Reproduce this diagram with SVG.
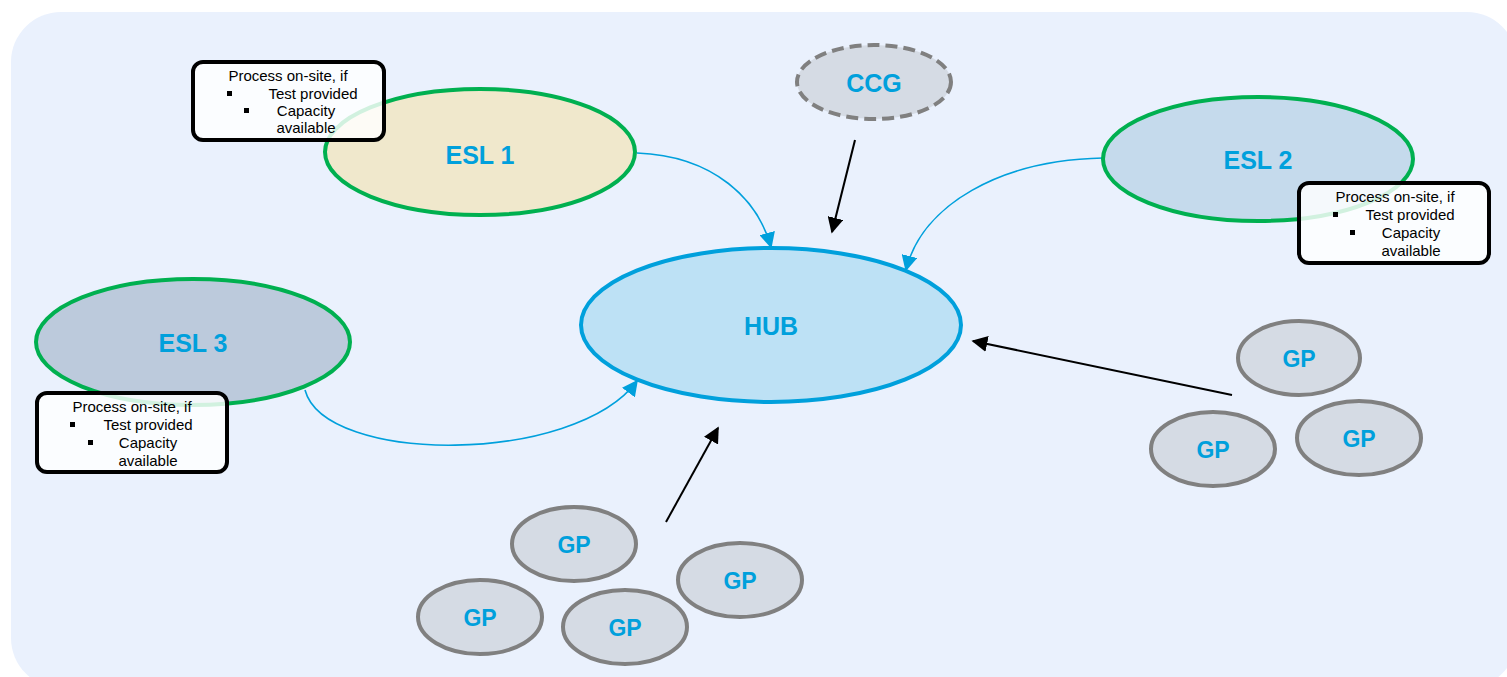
<svg xmlns="http://www.w3.org/2000/svg" width="1507" height="677" viewBox="0 0 1507 677">
<style>
.lbl{font-family:"Liberation Sans",Arial,sans-serif;font-weight:bold;fill:#00A0DC;text-anchor:middle;dominant-baseline:central}
.esl{stroke:#00B050;stroke-width:4}
.gp{fill:#D5DBE4;stroke:#808080;stroke-width:4}
.box{fill:#FFFFFF;fill-opacity:0.82;stroke:#000;stroke-width:4}
.bt{font-family:"Liberation Sans",Arial,sans-serif;font-size:15px;fill:#000;text-anchor:middle}
.blue{fill:none;stroke:#00A0DC;stroke-width:1.6}
.black{fill:none;stroke:#000;stroke-width:2}
</style>
<defs>
<marker id="ak" viewBox="0 0 10 10" refX="9" refY="5" markerWidth="16" markerHeight="16" markerUnits="userSpaceOnUse" orient="auto"><path d="M0,0 L10,5 L0,10 z" fill="#000"/></marker>
<marker id="ab2" viewBox="0 0 10 10" refX="9" refY="5" markerWidth="16" markerHeight="16" markerUnits="userSpaceOnUse" orient="auto"><path d="M0,0 L10,5 L0,10 z" fill="#00A0DC"/></marker>
</defs>
<rect x="11" y="12" width="1506" height="676" rx="50" fill="#EAF1FD"/>

<g id="connectors">
<path class="blue" d="M637,153 C715,156 758,200 771,247" marker-end="url(#ab2)"/>
<path class="blue" d="M1103,158 C1000,160 922,205 906,270" marker-end="url(#ab2)"/>
<path class="blue" d="M305,390 C325,465 575,465 637,381" marker-end="url(#ab2)"/>
<path class="black" d="M855,140 L832,232" marker-end="url(#ak)"/>
<path class="black" d="M1232,395 L973,341" marker-end="url(#ak)"/>
<path class="black" d="M666,522 L718,428" marker-end="url(#ak)"/>
</g>

<g id="hub">
<ellipse cx="771" cy="325" rx="190" ry="77" fill="#BDE1F5" stroke="#00A0DC" stroke-width="4"/>
<text class="lbl" x="771" y="326" font-size="25">HUB</text>
</g>

<g id="ccg">
<ellipse cx="874" cy="82" rx="77" ry="37" fill="#D5DBE4" stroke="#808080" stroke-width="4" stroke-dasharray="12 6"/>
<text class="lbl" x="874" y="83" font-size="25">CCG</text>
</g>

<g id="esl1">
<ellipse class="esl" cx="480" cy="152" rx="155" ry="63" fill="#F0E8CC"/>
<text class="lbl" x="480" y="155" font-size="25">ESL 1</text>
</g>

<g id="esl2">
<ellipse class="esl" cx="1258" cy="159" rx="155" ry="62" fill="#C5DAEC"/>
<text class="lbl" x="1258" y="160" font-size="25">ESL 2</text>
</g>

<g id="esl3">
<ellipse class="esl" cx="193" cy="342" rx="157" ry="63" fill="#BCCADC"/>
<text class="lbl" x="193" y="343" font-size="25">ESL 3</text>
</g>

<g id="box1">
<rect class="box" x="193" y="62" width="191" height="78" rx="10"/>
<text class="bt" x="288" y="81">Process on-site, if</text>
<rect x="227" y="91" width="5" height="5" fill="#000"/>
<text class="bt" x="313" y="99">Test provided</text>
<rect x="244" y="108" width="5" height="5" fill="#000"/>
<text class="bt" x="306" y="116">Capacity</text>
<text class="bt" x="306" y="133">available</text>
</g>

<g id="box2">
<rect class="box" x="1299" y="183" width="190" height="80" rx="10"/>
<text class="bt" x="1395" y="202">Process on-site, if</text>
<rect x="1333" y="212" width="5" height="5" fill="#000"/>
<text class="bt" x="1410" y="220">Test provided</text>
<rect x="1350" y="230" width="5" height="5" fill="#000"/>
<text class="bt" x="1411" y="238">Capacity</text>
<text class="bt" x="1411" y="256">available</text>
</g>

<g id="box3">
<rect class="box" x="37" y="393" width="190" height="79" rx="10"/>
<text class="bt" x="132" y="412">Process on-site, if</text>
<rect x="70" y="422" width="5" height="5" fill="#000"/>
<text class="bt" x="148" y="430">Test provided</text>
<rect x="88" y="440" width="5" height="5" fill="#000"/>
<text class="bt" x="148" y="448">Capacity</text>
<text class="bt" x="148" y="466">available</text>
</g>

<g id="gp1"><ellipse class="gp" cx="1299" cy="358" rx="61" ry="37"/><text class="lbl" x="1299" y="359" font-size="23">GP</text></g>
<g id="gp2"><ellipse class="gp" cx="1213" cy="449" rx="62" ry="37"/><text class="lbl" x="1213" y="450" font-size="23">GP</text></g>
<g id="gp3"><ellipse class="gp" cx="1359" cy="438" rx="62" ry="37"/><text class="lbl" x="1359" y="439" font-size="23">GP</text></g>
<g id="gp4"><ellipse class="gp" cx="574" cy="544" rx="62" ry="37"/><text class="lbl" x="574" y="545" font-size="23">GP</text></g>
<g id="gp5"><ellipse class="gp" cx="740" cy="580" rx="62" ry="37"/><text class="lbl" x="740" y="581" font-size="23">GP</text></g>
<g id="gp6"><ellipse class="gp" cx="480" cy="617" rx="62" ry="37"/><text class="lbl" x="480" y="618" font-size="23">GP</text></g>
<g id="gp7"><ellipse class="gp" cx="625" cy="627" rx="62" ry="37"/><text class="lbl" x="625" y="628" font-size="23">GP</text></g>
</svg>
